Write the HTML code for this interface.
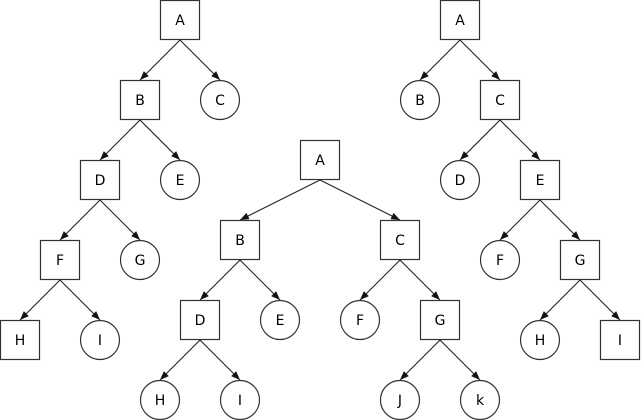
<!DOCTYPE html>
<html><head><meta charset="utf-8"><style>
html,body{margin:0;padding:0;background:#fff;}
svg{display:block;}
text{font-family:"DejaVu Sans","Liberation Sans",sans-serif;font-size:14px;fill:#000;}
</style></head><body>
<svg width="641" height="420" viewBox="0 0 641 420" xmlns="http://www.w3.org/2000/svg">
<defs>
<marker id="ar" markerUnits="userSpaceOnUse" markerWidth="10" markerHeight="8" refX="9" refY="4" orient="auto">
<path d="M0,0.5 L9,4 L0,7.5 z" fill="#111"/>
</marker>
</defs>
<g stroke="#222" stroke-width="1.1" marker-end="url(#ar)">
<!-- left tree -->
<line x1="180" y1="40" x2="140" y2="80"/>
<line x1="180" y1="40" x2="220" y2="80"/>
<line x1="140" y1="120" x2="100" y2="160"/>
<line x1="140" y1="120" x2="180" y2="160"/>
<line x1="100" y1="200" x2="60" y2="240"/>
<line x1="100" y1="200" x2="140" y2="240"/>
<line x1="60" y1="280" x2="20" y2="320"/>
<line x1="60" y1="280" x2="100" y2="320"/>
<!-- middle tree -->
<line x1="320" y1="180" x2="240" y2="220"/>
<line x1="320" y1="180" x2="400" y2="220"/>
<line x1="240" y1="260" x2="200" y2="300"/>
<line x1="240" y1="260" x2="280" y2="300"/>
<line x1="400" y1="260" x2="360" y2="300"/>
<line x1="400" y1="260" x2="440" y2="300"/>
<line x1="200" y1="340" x2="160" y2="380"/>
<line x1="200" y1="340" x2="240" y2="380"/>
<line x1="440" y1="340" x2="400" y2="380"/>
<line x1="440" y1="340" x2="480" y2="380"/>
<!-- right tree -->
<line x1="460" y1="40" x2="420" y2="80"/>
<line x1="460" y1="40" x2="500" y2="80"/>
<line x1="500" y1="120" x2="460" y2="160"/>
<line x1="500" y1="120" x2="540" y2="160"/>
<line x1="540" y1="200" x2="500" y2="240"/>
<line x1="540" y1="200" x2="580" y2="240"/>
<line x1="580" y1="280" x2="540" y2="320"/>
<line x1="580" y1="280" x2="620" y2="320"/>
</g>
<g fill="#fff" stroke="#333" stroke-width="1.2">
<!-- left -->
<rect x="160.5" y="0.5" width="39" height="39"/>
<rect x="120.5" y="80.5" width="39" height="39"/>
<circle cx="220" cy="100" r="19.5"/>
<rect x="80.5" y="160.5" width="39" height="39"/>
<circle cx="180" cy="180" r="19.5"/>
<rect x="40.5" y="240.5" width="39" height="39"/>
<circle cx="140" cy="260" r="19.5"/>
<rect x="0.5" y="320.5" width="39" height="39"/>
<circle cx="100" cy="340" r="19.5"/>
<!-- middle -->
<rect x="300.5" y="140.5" width="39" height="39"/>
<rect x="220.5" y="220.5" width="39" height="39"/>
<rect x="380.5" y="220.5" width="39" height="39"/>
<rect x="180.5" y="300.5" width="39" height="39"/>
<circle cx="280" cy="320" r="19.5"/>
<circle cx="360" cy="320" r="19.5"/>
<rect x="420.5" y="300.5" width="39" height="39"/>
<circle cx="160" cy="400" r="19.5"/>
<circle cx="240" cy="400" r="19.5"/>
<circle cx="400" cy="400" r="19.5"/>
<circle cx="480" cy="400" r="19.5"/>
<!-- right -->
<rect x="440.5" y="0.5" width="39" height="39"/>
<circle cx="420" cy="100" r="19.5"/>
<rect x="480.5" y="80.5" width="39" height="39"/>
<circle cx="460" cy="180" r="19.5"/>
<rect x="520.5" y="160.5" width="39" height="39"/>
<circle cx="500" cy="260" r="19.5"/>
<rect x="560.5" y="240.5" width="39" height="39"/>
<circle cx="540" cy="340" r="19.5"/>
<rect x="600.5" y="320.5" width="39" height="39"/>
</g>
<g text-anchor="middle">
<text x="180" y="25">A</text>
<text x="140" y="105">B</text>
<text x="220" y="105">C</text>
<text x="100" y="185">D</text>
<text x="180" y="185">E</text>
<text x="60" y="265">F</text>
<text x="140" y="265">G</text>
<text x="20" y="345">H</text>
<text x="100" y="345">I</text>

<text x="320" y="165">A</text>
<text x="240" y="245">B</text>
<text x="400" y="245">C</text>
<text x="200" y="325">D</text>
<text x="280" y="325">E</text>
<text x="360" y="325">F</text>
<text x="440" y="325">G</text>
<text x="160" y="405">H</text>
<text x="240" y="405">I</text>
<text x="400" y="405">J</text>
<text x="480" y="405">k</text>

<text x="460" y="25">A</text>
<text x="420" y="105">B</text>
<text x="500" y="105">C</text>
<text x="460" y="185">D</text>
<text x="540" y="185">E</text>
<text x="500" y="265">F</text>
<text x="580" y="265">G</text>
<text x="540" y="345">H</text>
<text x="620" y="345">I</text>
</g>
</svg>
</body></html>
